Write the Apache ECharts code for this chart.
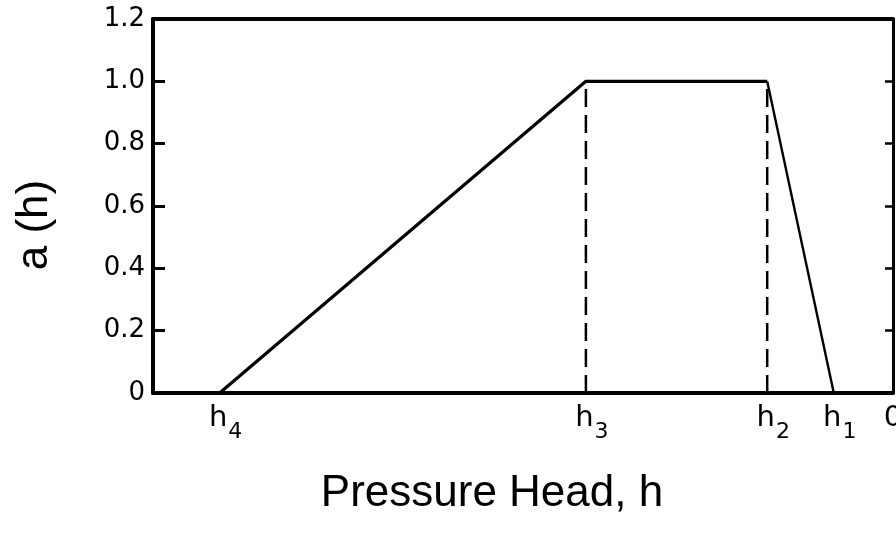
<!DOCTYPE html>
<html>
<head>
<meta charset="utf-8">
<script src="https://cdn.jsdelivr.net/npm/echarts@6/dist/echarts.min.js"></script>
<style>
  html, body { margin: 0; padding: 0; background: #ffffff; }
  #chart { width: 896px; height: 536px; }
</style>
</head>
<body>
<div id="chart"></div>
<script>
// ---- data ----
const headLabels = ['h4', 'h3', 'h2', 'h1', '0'];
const headValues = [-91, -41.5, -17, -8, 0];      // pressure head positions (arbitrary units)
const stressHeads = [-91, -41.5, -17, -8];        // h4, h3, h2, h1
const stressValues = [0, 1, 1, 0];               // a(h)
const yTickValues = [0, 0.2, 0.4, 0.6, 0.8, 1.0, 1.2];
const xTitle = 'Pressure Head, h';
const yTitle = 'a (h)';

const FONT = 'Liberation Sans';
const TICKFONT = 'DejaVu Sans';
const chart = echarts.init(document.getElementById('chart'), null, { renderer: 'canvas' });

const labelMap = {};
headValues.forEach((v, i) => { labelMap[v] = headLabels[i]; });

function headLabel(v) {
  const s = labelMap[v];
  if (s === undefined) return '';
  if (s.length === 1) return '{z|' + s + '}';
  return '{h|' + s[0] + '}{s|' + s.slice(1) + '}';
}

const rising = stressHeads.slice(0, 3).map((h, i) => [h, stressValues[i]]);
const falling = stressHeads.slice(2, 4).map((h, i) => [h, stressValues[i + 2]]);
const dashH3 = [[stressHeads[1], 0], [stressHeads[1], stressValues[1]]];
const dashH2 = [[stressHeads[2], 0], [stressHeads[2], stressValues[2]]];

const option = {
  animation: false,
  backgroundColor: '#ffffff',
  grid: { left: 153, right: 3, top: 19, bottom: 143, containLabel: false, outerBoundsMode: 'none' },
  xAxis: [
    {
      type: 'value', min: -100, max: 0, position: 'bottom',
      axisLine: { show: true, onZero: false, lineStyle: { color: '#000', width: 4 } },
      axisTick: { show: false },
      splitLine: { show: false },
      axisLabel: {
        show: true, margin: 11, color: '#000', fontFamily: TICKFONT,
        customValues: headValues,
        hideOverlap: false,
        formatter: headLabel,
        rich: {
          h: { fontSize: 29, lineHeight: 29, fontFamily: TICKFONT, color: '#000', verticalAlign: 'top', padding: [0, 0, 0, 12] },
          s: { fontSize: 22, lineHeight: 22, fontFamily: TICKFONT, color: '#000', verticalAlign: 'top', padding: [17, 0, 0, 1] },
          z: { fontSize: 29, lineHeight: 29, fontFamily: TICKFONT, color: '#000', verticalAlign: 'top' }
        }
      }
    },
    {
      type: 'value', min: -100, max: 0, position: 'top',
      axisLine: { show: true, onZero: false, lineStyle: { color: '#000', width: 4 } },
      axisTick: { show: false }, axisLabel: { show: false }, splitLine: { show: false }
    }
  ],
  yAxis: [
    {
      type: 'value', min: 0, max: 1.2, interval: 0.2, position: 'left',
      axisLine: { show: true, onZero: false, lineStyle: { color: '#000', width: 4 } },
      axisTick: { show: true, inside: true, length: 12, lineStyle: { color: '#000', width: 3 } },
      splitLine: { show: false },
      axisLabel: {
        margin: 8, color: '#000', fontSize: 26, fontFamily: TICKFONT,
        formatter: v => (v === 0 ? '0' : v.toFixed(1))
      }
    },
    {
      type: 'value', min: 0, max: 1.2, interval: 0.2, position: 'right',
      axisLine: { show: true, onZero: false, lineStyle: { color: '#000', width: 3 } },
      axisTick: { show: true, inside: true, length: 8, lineStyle: { color: '#000', width: 2.5 } },
      splitLine: { show: false },
      axisLabel: { show: false }
    }
  ],
  series: [
    {
      type: 'line', data: rising, symbol: 'none', silent: true,
      lineStyle: { color: '#000', width: 3.2 }
    },
    {
      type: 'line', data: falling, symbol: 'none', silent: true,
      lineStyle: { color: '#000', width: 2.4 }
    },
    {
      type: 'line', data: dashH3, symbol: 'none', silent: true,
      lineStyle: { color: '#000', width: 2.5, type: [18, 8] }
    },
    {
      type: 'line', data: dashH2, symbol: 'none', silent: true,
      lineStyle: { color: '#000', width: 2.5, type: [18, 8] }
    }
  ],
  graphic: [
    {
      type: 'text', x: 35, y: 225, rotation: Math.PI / 2,
      style: { text: yTitle, font: '44px "' + FONT + '"', fill: '#000', align: 'center', verticalAlign: 'middle' }
    },
    {
      type: 'text', x: 492, y: 494,
      style: { text: xTitle, font: '44px "' + FONT + '"', fill: '#000', align: 'center', verticalAlign: 'middle' }
    }
  ]
};

chart.setOption(option);
</script>
</body>
</html>
